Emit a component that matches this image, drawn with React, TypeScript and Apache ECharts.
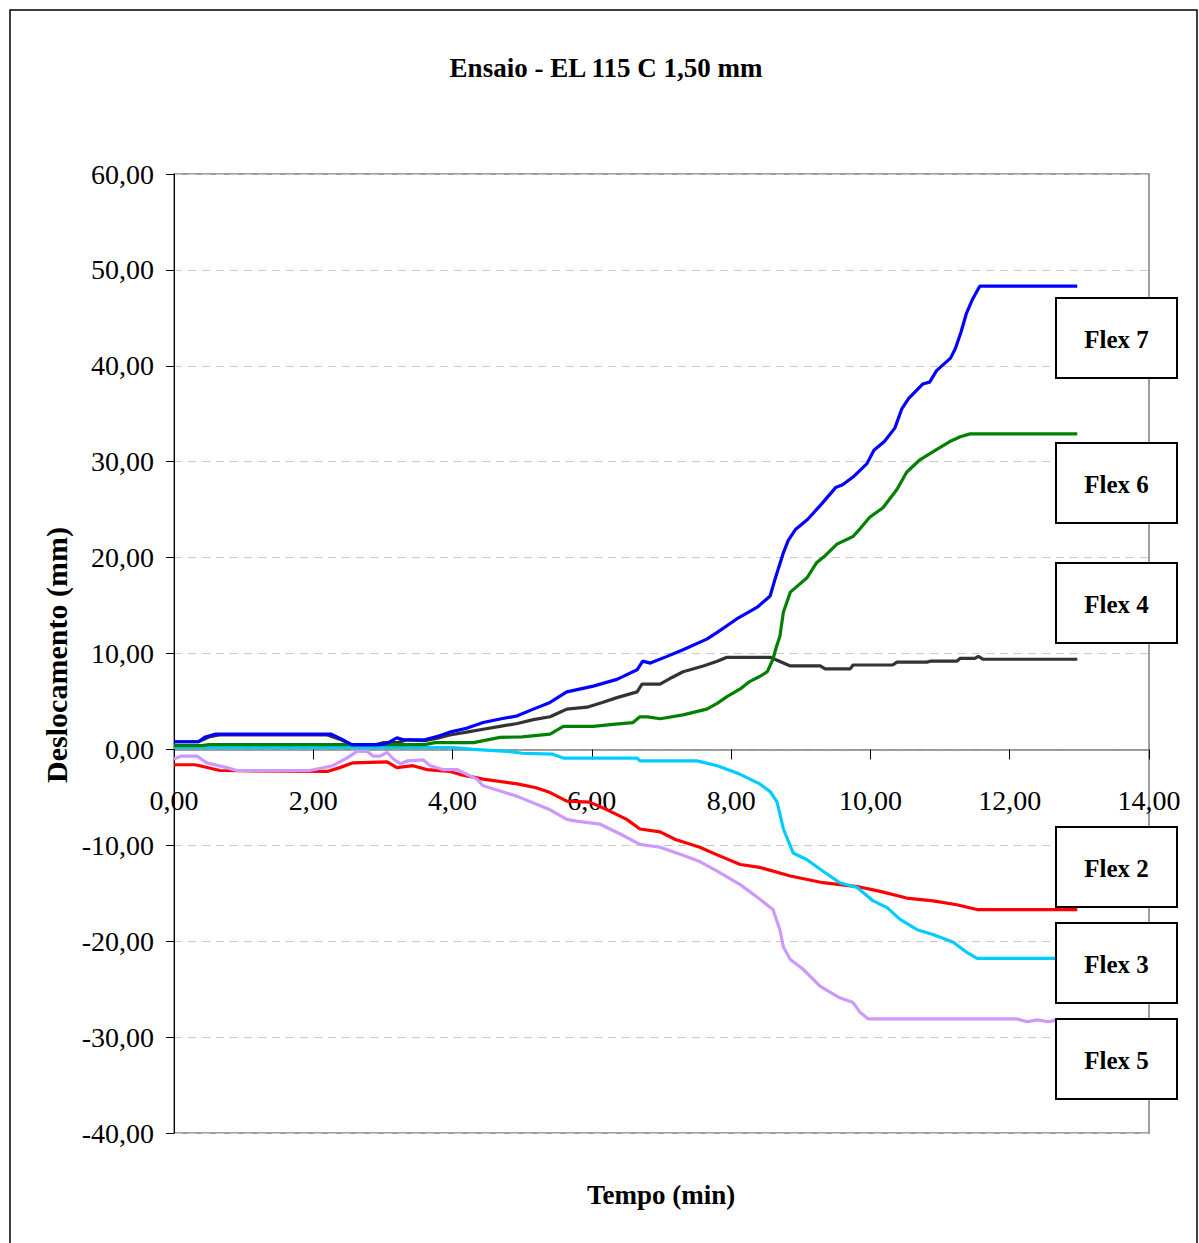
import React, { useEffect, useRef } from "react";
import * as echarts from "echarts";

const titleText = "Ensaio - EL 115 C 1,50 mm";
const xName = "Tempo (min)";
const yName = "Deslocamento (mm)";

const seriesNames = ["Flex 2", "Flex 3", "Flex 4", "Flex 5", "Flex 6", "Flex 7"];
const seriesColors = ["#FF0000", "#00CCFF", "#333333", "#CC99FF", "#008000", "#0000FF"];

const flex7: [number, number][] = [
  [0, 0.8], [0.35, 0.8], [0.45, 1.3], [0.6, 1.6], [2.25, 1.6], [2.4, 1.1], [2.55, 0.5], [2.95, 0.5],
  [3.05, 0.6], [3.2, 1.2], [3.3, 1.0], [3.6, 1.0], [3.8, 1.4], [3.96, 1.8], [4.2, 2.2], [4.44, 2.8],
  [4.7, 3.2], [4.93, 3.5], [5.16, 4.2], [5.4, 4.9], [5.64, 6.0], [6.02, 6.6], [6.36, 7.3], [6.65, 8.3],
  [6.73, 9.2], [6.84, 9.0], [7.08, 9.7], [7.31, 10.4], [7.65, 11.5], [7.8, 12.2], [8.08, 13.6], [8.37, 14.8],
  [8.56, 16.0], [8.62, 17.5], [8.68, 18.9], [8.75, 20.5], [8.82, 21.8], [8.92, 22.9], [9.1, 24.0], [9.3, 25.6],
  [9.5, 27.3], [9.6, 27.6], [9.75, 28.4], [9.95, 29.8], [10.05, 31.2], [10.2, 32.1], [10.35, 33.5], [10.45, 35.5],
  [10.55, 36.6], [10.75, 38.1], [10.85, 38.3], [10.95, 39.5], [11.15, 40.8], [11.22, 41.8], [11.3, 43.5],
  [11.38, 45.5], [11.47, 47.0], [11.57, 48.3], [12.97, 48.3],
];

const flex6: [number, number][] = [
  [0, 0.4], [0.4, 0.4], [0.5, 0.5], [3.6, 0.5], [3.75, 0.7], [4.3, 0.7], [4.5, 1.0], [4.68, 1.25], [5.0, 1.3],
  [5.4, 1.6], [5.59, 2.4], [6.02, 2.4], [6.3, 2.6], [6.59, 2.8], [6.69, 3.4], [6.8, 3.4], [6.98, 3.2],
  [7.31, 3.6], [7.65, 4.2], [7.8, 4.8], [7.94, 5.5], [8.13, 6.3], [8.27, 7.1], [8.41, 7.6], [8.52, 8.1],
  [8.6, 9.4], [8.65, 10.7], [8.7, 11.8], [8.75, 14.3], [8.85, 16.4], [9.09, 17.9], [9.23, 19.5], [9.35, 20.2],
  [9.52, 21.4], [9.75, 22.2], [9.85, 23.0], [9.99, 24.2], [10.18, 25.2], [10.38, 27.1], [10.52, 28.9],
  [10.71, 30.2], [10.96, 31.3], [11.14, 32.1], [11.29, 32.6], [11.43, 32.9], [12.97, 32.9],
];

const flex4: [number, number][] = [
  [0, 0.8], [0.35, 0.8], [0.5, 1.3], [0.65, 1.5], [2.2, 1.5], [2.4, 1.0], [2.55, 0.5], [2.9, 0.5], [3.0, 0.7],
  [3.2, 0.7], [3.35, 1.0], [3.6, 0.9], [3.8, 1.2], [3.96, 1.5], [4.2, 1.8], [4.44, 2.1], [4.68, 2.4],
  [4.93, 2.7], [5.16, 3.1], [5.4, 3.4], [5.55, 3.9], [5.64, 4.2], [5.93, 4.4], [6.15, 4.9], [6.36, 5.4],
  [6.65, 6.0], [6.72, 6.8], [6.98, 6.8], [7.15, 7.5], [7.31, 8.1], [7.6, 8.7], [7.8, 9.2], [7.94, 9.6],
  [8.56, 9.6], [8.66, 9.3], [8.85, 8.7], [9.28, 8.7], [9.35, 8.4], [9.71, 8.4], [9.75, 8.8], [10.32, 8.8],
  [10.38, 9.1], [10.81, 9.1], [10.86, 9.2], [11.24, 9.2], [11.29, 9.5], [11.5, 9.5], [11.55, 9.7], [11.62, 9.4],
  [12.97, 9.4],
];

const flex3: [number, number][] = [
  [0, 0.2], [4.0, 0.2], [4.3, 0.0], [4.78, -0.2], [5.0, -0.4], [5.44, -0.5], [5.59, -0.9], [6.65, -0.9],
  [6.69, -1.2], [7.51, -1.2], [7.8, -1.7], [8.13, -2.6], [8.41, -3.6], [8.56, -4.4], [8.66, -5.5], [8.75, -8.3],
  [8.89, -10.8], [9.09, -11.5], [9.28, -12.5], [9.56, -13.9], [9.81, -14.4], [10.04, -15.8], [10.24, -16.5],
  [10.42, -17.7], [10.67, -18.8], [10.9, -19.3], [11.19, -20.1], [11.39, -21.2], [11.53, -21.8], [12.97, -21.8],
];

const flex2: [number, number][] = [
  [0, -1.6], [0.3, -1.6], [0.37, -1.7], [0.66, -2.2], [2.2, -2.3], [2.38, -1.9], [2.57, -1.4], [3.06, -1.3],
  [3.2, -1.9], [3.43, -1.7], [3.63, -2.1], [3.96, -2.3], [4.1, -2.6], [4.44, -3.1], [4.93, -3.6], [5.2, -4.0],
  [5.4, -4.5], [5.64, -5.4], [5.97, -5.5], [6.22, -6.3], [6.5, -7.3], [6.69, -8.3], [6.98, -8.6], [7.2, -9.4],
  [7.55, -10.2], [7.8, -11.0], [8.13, -12.0], [8.41, -12.3], [8.85, -13.2], [9.32, -13.9], [9.81, -14.3],
  [10.14, -14.8], [10.52, -15.5], [10.9, -15.8], [11.24, -16.2], [11.53, -16.7], [12.97, -16.7],
];

const flex5: [number, number][] = [
  [0, -1.0], [0.1, -0.7], [0.33, -0.7], [0.47, -1.4], [0.76, -1.9], [0.9, -2.2], [1.95, -2.2], [2.28, -1.7],
  [2.48, -0.9], [2.63, -0.2], [2.77, -0.2], [2.86, -0.7], [2.96, -0.7], [3.06, -0.3], [3.15, -1.0], [3.25, -1.5],
  [3.35, -1.2], [3.58, -1.1], [3.68, -1.7], [3.86, -2.1], [4.06, -2.1], [4.35, -3.1], [4.44, -3.8], [4.93, -4.9],
  [5.4, -6.3], [5.64, -7.3], [5.8, -7.5], [6.12, -7.8], [6.4, -8.8], [6.69, -9.9], [6.98, -10.2], [7.3, -11.0],
  [7.55, -11.7], [7.8, -12.7], [8.13, -14.1], [8.41, -15.6], [8.6, -16.7], [8.7, -18.8], [8.75, -20.6],
  [8.85, -21.9], [9.03, -22.9], [9.28, -24.7], [9.56, -25.9], [9.75, -26.4], [9.85, -27.4], [9.97, -28.1],
  [12.1, -28.1], [12.25, -28.4], [12.4, -28.2], [12.55, -28.4], [12.7, -28.2], [12.97, -28.3],
];

const seriesData = [flex2, flex3, flex4, flex5, flex6, flex7];

// label boxes at the right: name and top position (px)
const boxLabels = ["Flex 7", "Flex 6", "Flex 4", "Flex 2", "Flex 3", "Flex 5"];
const boxTops = [298, 443, 563, 827, 923, 1019];

const FONT = "'Liberation Serif', 'Times New Roman', serif";
const fmt = (v: number) => v.toFixed(2).replace(".", ",");

export default function App() {
  const ref = useRef<HTMLDivElement>(null);
  useEffect(() => {
    document.body.style.margin = "0";
    if (!ref.current) return;
    const chart = echarts.init(ref.current, undefined, { renderer: "svg" });

    const boxes = boxLabels.map((name, i) => ({
      type: "group",
      z: 100,
      children: [
        {
          type: "rect",
          z: 100,
          shape: { x: 1056, y: boxTops[i], width: 121, height: 80 },
          style: { fill: "#ffffff", stroke: "#000000", lineWidth: 2 },
        },
        {
          type: "text",
          z: 101,
          x: 1116.5,
          y: boxTops[i] + 41,
          style: {
            text: name,
            font: `bold 25px ${FONT}`,
            fill: "#000000",
            textAlign: "center",
            textVerticalAlign: "middle",
          },
        },
      ],
    }));

    chart.setOption({
      animation: false,
      backgroundColor: "#ffffff",
      grid: {
        left: 174,
        top: 174,
        right: 50,
        bottom: 110,
        show: true,
        borderColor: "#808080",
        borderWidth: 1.5,
        backgroundColor: "transparent",
      },
      xAxis: [
        {
          type: "value",
          min: 0,
          max: 14,
          interval: 2,
          axisLine: { onZero: true, lineStyle: { color: "#808080", width: 1.5 } },
          axisTick: { show: true, length: 10, lineStyle: { color: "#000000" } },
          axisLabel: { show: false },
          splitLine: { show: false },
        },
        {
          type: "value",
          min: 0,
          max: 14,
          interval: 2,
          position: "bottom",
          offset: -383,
          axisLine: { show: false, onZero: false },
          axisTick: { show: false },
          axisLabel: {
            margin: 36,
            formatter: fmt,
            fontFamily: FONT,
            fontSize: 28,
            color: "#000000",
          },
          splitLine: { show: false },
        },
      ],
      yAxis: {
        type: "value",
        min: -40,
        max: 60,
        interval: 10,
        axisLine: { show: true, onZero: false, lineStyle: { color: "#000000", width: 1 } },
        axisTick: { show: true, length: 8, lineStyle: { color: "#000000" } },
        axisLabel: {
          margin: 20,
          formatter: fmt,
          fontFamily: FONT,
          fontSize: 28,
          color: "#000000",
        },
        splitLine: { show: true, lineStyle: { color: "#c8c8c8", type: [8, 6], width: 1 } },
      },
      series: seriesData.map((d, i) => ({
        name: seriesNames[i],
        type: "line",
        xAxisIndex: 0,
        data: d,
        showSymbol: false,
        symbol: "none",
        lineStyle: { color: seriesColors[i], width: 3.2 },
        itemStyle: { color: seriesColors[i] },
        z: 2 + i,
      })),
      graphic: [
        {
          type: "rect",
          z: 0,
          silent: true,
          shape: { x: 10, y: 10, width: 1187, height: 1260 },
          style: { fill: "transparent", stroke: "#000000", lineWidth: 1.5 },
        },
        {
          type: "text",
          x: 606,
          y: 68,
          style: {
            text: titleText,
            font: `bold 27px ${FONT}`,
            fill: "#000000",
            textAlign: "center",
            textVerticalAlign: "middle",
          },
        },
        {
          type: "text",
          x: 661,
          y: 1195,
          style: {
            text: xName,
            font: `bold 27px ${FONT}`,
            fill: "#000000",
            textAlign: "center",
            textVerticalAlign: "middle",
          },
        },
        {
          type: "text",
          x: 56,
          y: 655,
          rotation: Math.PI / 2,
          style: {
            text: yName,
            font: `bold 30px ${FONT}`,
            fill: "#000000",
            textAlign: "center",
            textVerticalAlign: "middle",
          },
        },
        ...boxes,
      ],
    });
    return () => chart.dispose();
  }, []);
  return <div ref={ref} style={{ width: 1199, height: 1243 }} />;
}
